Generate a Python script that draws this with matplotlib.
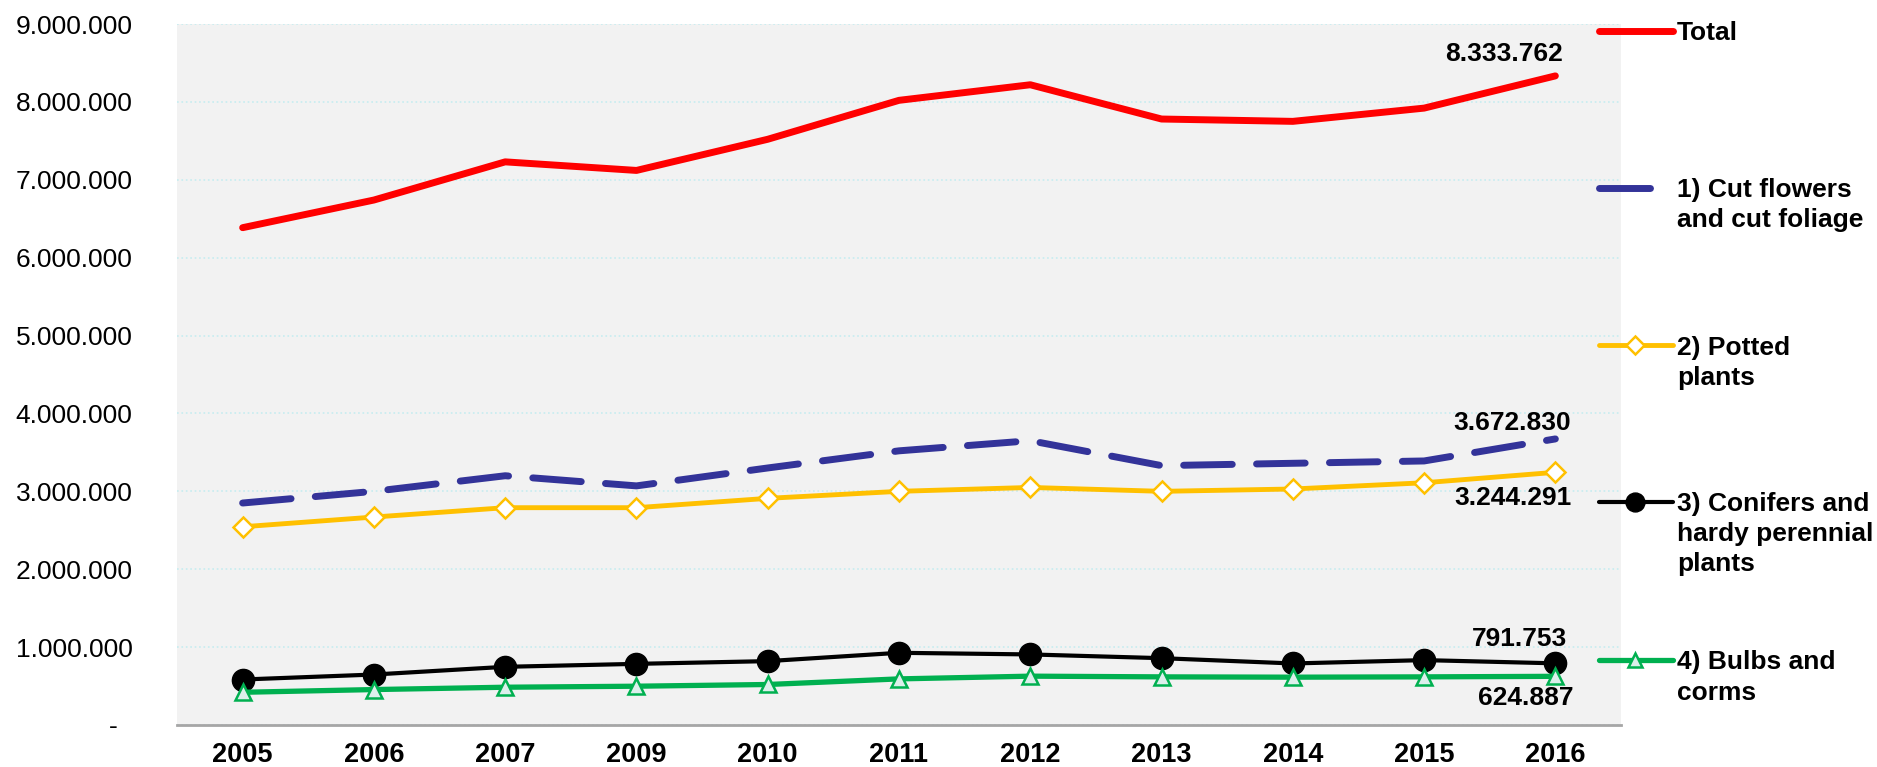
import matplotlib
matplotlib.use("Agg")
import matplotlib.pyplot as plt
from matplotlib.lines import Line2D

plt.rcParams['font.family'] = ['Liberation Sans', 'DejaVu Sans']

years = ["2005", "2006", "2007", "2009", "2010", "2011", "2012", "2013", "2014", "2015", "2016"]
total = [6385000, 6740000, 7230000, 7120000, 7520000, 8020000, 8220000, 7780000, 7750000, 7920000, 8333762]
cut_flowers = [2850000, 3000000, 3200000, 3070000, 3300000, 3520000, 3650000, 3330000, 3360000, 3390000, 3672830]
potted = [2545000, 2670000, 2790000, 2790000, 2910000, 3000000, 3050000, 3000000, 3030000, 3110000, 3244291]
conifers = [584000, 648000, 747000, 785000, 820000, 927000, 906000, 858000, 790000, 833000, 791753]
bulbs = [420000, 455000, 485000, 498000, 520000, 592000, 627000, 618000, 614000, 618000, 624887]

legend_labels = ["Total", "1) Cut flowers\nand cut foliage", "2) Potted\nplants",
                 "3) Conifers and\nhardy perennial\nplants", "4) Bulbs and\ncorms"]

W, H = 1877, 767
fig = plt.figure(figsize=(W / 100, H / 100), dpi=100)
ax = fig.add_axes([177 / W, 1 - 725 / H, (1621 - 177) / W, (725 - 24) / H])
ax.set_facecolor("#f2f2f2")

x = range(len(years))
styles = [
    dict(color="#ff0000", lw=5, solid_capstyle="round"),
    dict(color="#333399", lw=5, ls=(0, (7, 3.5)), dash_capstyle="round", solid_capstyle="round"),
    dict(color="#ffc000", lw=3.5, marker="D", ms=10.5, mfc="white", mec="#ffc000", mew=1.8),
    dict(color="#000000", lw=3, marker="o", ms=16, mfc="black", mec="black"),
    dict(color="#00b050", lw=3.8, marker="^", ms=12, mfc="#dcefeb", mec="#00b050", mew=1.8),
]
series = [total, cut_flowers, potted, conifers, bulbs]
zs = [5, 4, 3, 2, 3.5]
for vals, st, z in zip(series, styles, zs):
    ax.plot(x, vals, zorder=z, **st)

ax.set_xlim(-0.5, len(years) - 0.5)
ax.set_ylim(0, 9000000)
ticks = list(range(0, 9000001, 1000000))
ax.set_yticks(ticks)
ax.set_yticklabels(["-  " if t == 0 else f"{t:,}".replace(",", ".") for t in ticks], fontsize=19)
ax.set_xticks(list(x))
ax.set_xticklabels(years, fontsize=19.5, fontweight="bold")
ax.tick_params(axis="both", length=0)
ax.tick_params(axis="y", pad=32)
ax.tick_params(axis="x", pad=12)
ax.grid(axis="y", color="#c6ecf0", ls=":", lw=1.2)
ax.set_axisbelow(True)
for s in ["left", "right", "top"]:
    ax.spines[s].set_visible(False)
ax.spines["bottom"].set_color("#a6a6a6")
ax.spines["bottom"].set_linewidth(2)

# end-of-series value labels
last = len(years) - 1
ann = [(total[-1], (8, 22)), (cut_flowers[-1], (16, 16)), (potted[-1], (16, -26)),
       (conifers[-1], (12, 24)), (bulbs[-1], (18, -22))]
for v, off in ann:
    ax.annotate(f"{v:,}".replace(",", "."), (last, v), xytext=off, textcoords="offset pixels",
                ha="right", va="center", fontsize=19, fontweight="bold")

# legend at the right, drawn by hand
leg_y = [31, 188, 345, 502, 660]
leg_end = [1673, 1650, 1673, 1673, 1673]
for st, lab, yy, xe in zip(styles, legend_labels, leg_y, leg_end):
    yf = 1 - yy / H
    kw = dict(st)
    kw["ls"] = "-"
    kw.pop("dash_capstyle", None)
    kw["solid_capstyle"] = "round"
    if "ms" in kw:
        kw["ms"] = kw["ms"] * 0.85
    kw["markevery"] = [1]
    fig.add_artist(Line2D([1599 / W, 1635 / W, xe / W], [yf, yf, yf],
                          transform=fig.transFigure, **kw))
    for i, line in enumerate(lab.split("\n")):
        fig.text(1677 / W, 1 - (yy + 30 * i) / H, line, fontsize=19, fontweight="bold",
                 va="center_baseline", ha="left")

fig.savefig("out.png", dpi=100)
